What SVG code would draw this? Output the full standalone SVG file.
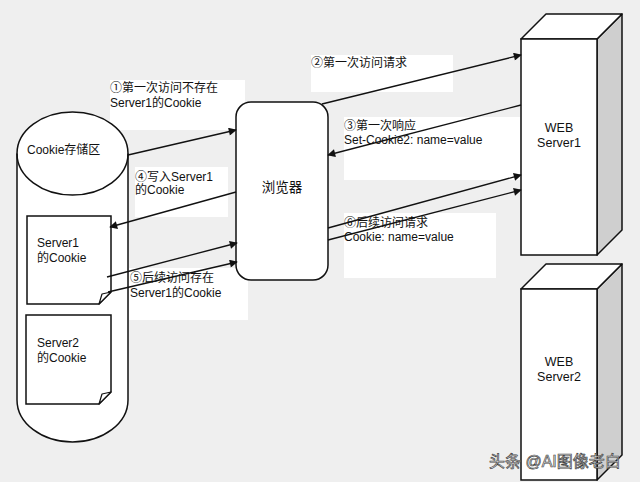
<svg xmlns="http://www.w3.org/2000/svg" width="640" height="482" viewBox="0 0 640 482">
<defs>
<style>
text{font-family:"Liberation Sans","Noto Sans CJK SC",sans-serif;font-size:12px;fill:#111}
.lbl{fill:#fff;stroke:none}
.shape{fill:#fff;stroke:#111;stroke-width:1.5}
.side{fill:#cfcfcf;stroke:#111;stroke-width:1.5;stroke-linejoin:round}
.conn line{stroke:#111;stroke-width:1.3;marker-end:url(#ah)}
.c{text-anchor:middle}
</style>
<marker id="ah" viewBox="0 0 10 10" refX="9" refY="5" markerWidth="9" markerHeight="8" markerUnits="userSpaceOnUse" orient="auto">
<path d="M0,0 L10,5 L0,10 Z" fill="#111"/>
</marker>
</defs>
<rect width="640" height="482" fill="#efefef"/>

<g id="labels">
<g id="label1"><rect class="lbl" x="110" y="80" width="135" height="50"/>
<text x="110" y="92">①第一次访问不存在</text><text x="110" y="107">Server1的Cookie</text></g>
<g id="label2"><rect class="lbl" x="311" y="55" width="142" height="37"/>
<text x="311" y="67">②第一次访问请求</text></g>
<g id="label3"><rect class="lbl" x="344" y="117" width="176" height="63"/>
<text x="344" y="130">③第一次响应</text><text x="344" y="144">Set-Cookie2: name=value</text></g>
<g id="label4"><rect class="lbl" x="135" y="167" width="93" height="50"/>
<text x="135" y="181">④写入Server1</text><text x="135" y="194">的Cookie</text></g>
<g id="label5"><rect class="lbl" x="129" y="268" width="119" height="52"/>
<text x="130" y="282">⑤后续访问存在</text><text x="130" y="297">Server1的Cookie</text></g>
<g id="label6"><rect class="lbl" x="344" y="213" width="152" height="65"/>
<text x="344" y="227">⑥后续访问请求</text><text x="344" y="241">Cookie: name=value</text></g>
</g>

<g id="cookie-store">
<path class="shape" d="M17,153.5 A55.5,41.5 0 0 1 128,153.5 V400 A55.5,42 0 0 1 17,400 Z"/>
<path d="M17,153.5 A55.5,41.5 0 0 0 128,153.5" fill="none" stroke="#111" stroke-width="1.5"/>
<text x="27" y="154">Cookie存储区</text>
</g>

<g id="server1-cookie">
<path class="shape" d="M27,216 H111 V292 L99,304 H27 Z"/>
<path d="M111,292 L99,304 L102,294 Z" fill="#fff" stroke="#111" stroke-width="1.2" stroke-linejoin="round"/>
<text x="37" y="247">Server1</text><text x="37" y="262">的Cookie</text>
</g>

<g id="server2-cookie">
<path class="shape" d="M26,315 H111 V392 L99,404 H26 Z"/>
<path d="M111,392 L99,404 L102,394 Z" fill="#fff" stroke="#111" stroke-width="1.2" stroke-linejoin="round"/>
<text x="37" y="347">Server2</text><text x="37" y="362">的Cookie</text>
</g>

<g id="browser">
<rect class="shape" x="236" y="102" width="92" height="178" rx="15" ry="15"/>
<text class="c" x="282" y="192" style="font-size:13.5px">浏览器</text>
</g>

<g id="web-server1">
<path class="side" d="M597,39 L622,14 V230 L597,255 Z"/>
<path class="shape" d="M521,39 L546,14 H622 L597,39 Z" stroke-linejoin="round"/>
<rect class="shape" x="521" y="39" width="76" height="216"/>
<text class="c" x="559" y="132" style="font-size:12.5px">WEB</text>
<text class="c" x="559" y="147" style="font-size:12.5px">Server1</text>
</g>

<g id="web-server2">
<path class="side" d="M597,289 L622,264 V455 L597,480 Z"/>
<path class="shape" d="M521,289 L546,264 H622 L597,289 Z" stroke-linejoin="round"/>
<rect class="shape" x="521" y="289" width="76" height="191"/>
<text class="c" x="559" y="366" style="font-size:12.5px">WEB</text>
<text class="c" x="559" y="381" style="font-size:12.5px">Server2</text>
</g>

<g id="connectors" class="conn">
<line x1="128" y1="155" x2="236" y2="130"/>
<line x1="322" y1="104" x2="521" y2="55"/>
<line x1="521" y1="105" x2="328" y2="155"/>
<line x1="236" y1="192" x2="110" y2="227"/>
<line x1="107" y1="277" x2="237" y2="243"/>
<line x1="108" y1="292" x2="237" y2="262"/>
<line x1="328" y1="228" x2="521" y2="175"/>
<line x1="328" y1="240" x2="521" y2="190"/>
</g>

<g id="watermark">
<text x="489" y="467" style="font-size:16px;fill:#fff;stroke:#444;stroke-width:0.7">头条 @AI图像老白</text>
</g>
</svg>
